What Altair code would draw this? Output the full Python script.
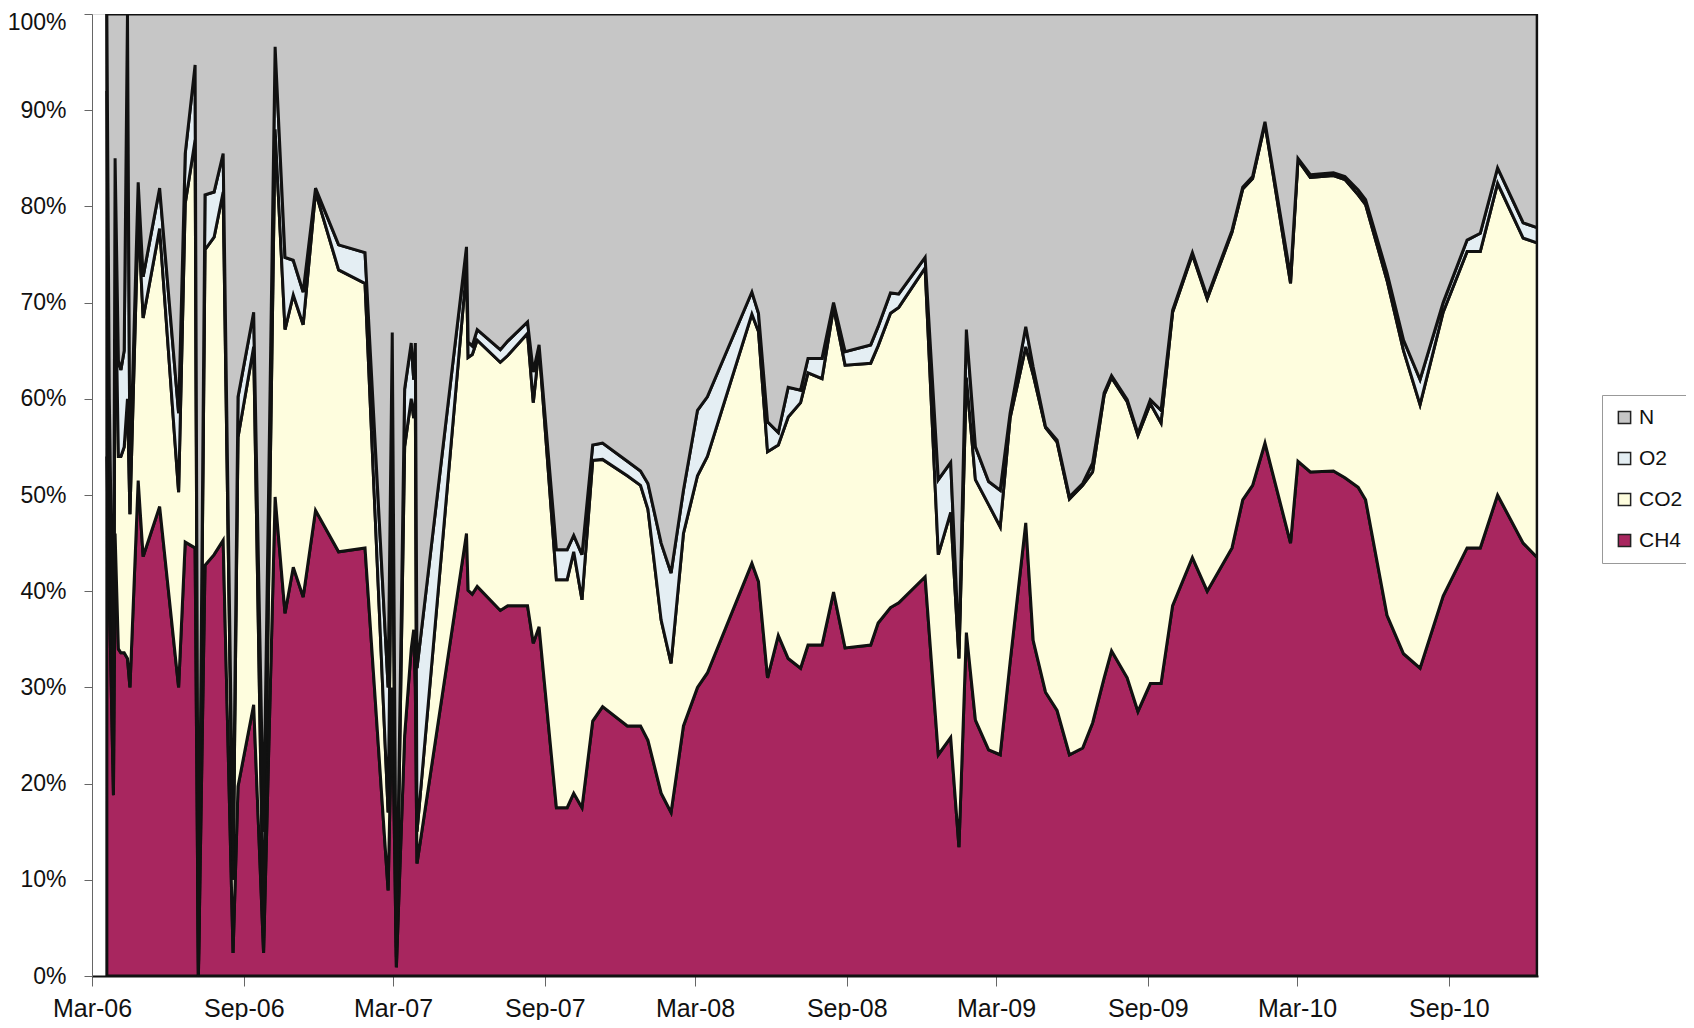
import altair as alt
import pandas as pd

# days after 2006-03-01 of each sample
day = [18, 21, 26, 28, 32, 35, 39, 43, 46, 56, 62, 82, 105, 113, 125, 129, 137, 148, 159, 171,
       177, 196, 208, 222, 234, 244, 256, 271, 299, 331, 359, 364, 369, 379, 387, 390, 392, 394, 454, 456,
       461, 467, 495, 504, 528, 535, 542, 563, 576, 584, 594, 607, 619, 649, 665, 674, 690, 702, 717, 734,
       746, 800, 808, 819, 832, 844, 859, 868, 885, 899, 913, 944, 953, 968, 978, 1010, 1026, 1041, 1051, 1060,
       1071, 1087, 1101, 1113, 1132, 1141, 1156, 1170, 1185, 1201, 1213, 1227, 1236, 1255, 1268, 1283, 1296, 1310, 1334, 1352,
       1382, 1395, 1407, 1422, 1453, 1462, 1477, 1505, 1519, 1535, 1544, 1570, 1590, 1610, 1638, 1667, 1683, 1704, 1735, 1752]

ch4 = [54, 40, 18.8, 46, 34, 33.6, 33.6, 33, 30, 51.5, 43.6, 48.8, 30, 45.1, 44.5, 0, 42.7, 43.8, 45.3, 2.4,
       19.7, 28.2, 2.4, 49.8, 37.7, 42.5, 39.4, 48.4, 44.1, 44.5, 8.9, 30, 0.9, 25, 34, 36, 30, 11.7, 46, 40.1,
       39.7, 40.5, 38, 38.5, 38.5, 34.6, 36.3, 17.5, 17.5, 19, 17.5, 26.5, 28, 26, 26, 24.5, 19, 17, 26, 30,
       31.5, 42.9, 41, 31, 35.4, 33, 32, 34.4, 34.4, 39.9, 34.1, 34.4, 36.7, 38.3, 38.8, 41.5, 23, 24.8, 13.4, 35.7,
       26.6, 23.5, 23, 32.6, 47.1, 34.9, 29.5, 27.6, 23, 23.7, 26.3, 31, 33.8, 31, 27.5, 30.4, 30.4, 38.5, 43.5, 40,
       44.5, 49.5, 51, 55.4, 45, 53.5, 52.4, 52.5, 51.8, 50.8, 49.5, 37.5, 33.5, 32, 39.5, 44.5, 44.5, 50, 45, 43.5]

co2 = [38, 15, 3.2, 29, 20, 20.4, 21.4, 27, 18, 27.5, 24.8, 28.9, 20.3, 35.2, 42.4, 0, 32.8, 33.0, 36.2, 7.6,
       36.3, 37.2, 1.6, 38.2, 29.5, 28.3, 28.3, 33.1, 29.3, 27.5, 8.1, 25, 1.1, 30, 26, 22, 30, 3.3, 27.5, 24.2,
       24.9, 25.6, 25.8, 26, 28.3, 25, 29.1, 23.7, 23.7, 25.1, 21.6, 27.1, 25.7, 26, 25, 24, 18, 15.5, 20, 22,
       22.5, 25.9, 26, 23.5, 19.8, 25.1, 27.6, 28.3, 27.7, 29.6, 29.4, 29.3, 28.8, 30.6, 30.7, 32.1, 20.8, 23.4, 19.6, 26.5,
       25, 25.5, 23.7, 25.4, 18.3, 27.6, 27.5, 27.9, 26.6, 27.3, 26.1, 29.4, 28.4, 28.7, 28.7, 29.1, 27.1, 30.5, 31.5, 30.4,
       32.8, 32.3, 31.9, 33.2, 27, 31.3, 30.6, 30.7, 31, 30.4, 30.7, 34.8, 31.5, 27.4, 29.5, 30.8, 30.8, 32.4, 31.7, 32.7]

o2 = [8, 5, 8, 10, 10, 9, 10, 40, 4, 3.5, 4.3, 4.2, 8.2, 5.2, 7.8, 0, 5.7, 4.7, 4.0, 2,
      4.2, 3.6, 11, 8.6, 7.5, 3.6, 3.4, 0.4, 2.6, 3.2, 13, 11.9, 1, 6, 5.8, 4, 5.8, 17, 2.3, 1.6,
      0.9, 1.1, 1.3, 1.5, 1.2, 3.2, 0.2, 3.1, 3.1, 1.7, 4.7, 1.6, 1.7, 1.5, 1.5, 2.7, 8, 9.4, 4.5, 6.8,
      6.2, 2.3, 1.9, 3.1, 1.3, 3.1, 1.3, 1.5, 2.1, 0.5, 1.4, 1.9, 2.0, 2.1, 1.4, 1.1, 7.8, 5.2, 1.0, 5.0,
      3.4, 2.4, 3.8, 0.5, 2.1, 0.8, 0.1, 0.2, 0.2, 0.2, 0.9, 0.2, 0.2, 0.2, 0.2, 0.4, 1.3, 0.2, 0.2, 0.2,
      0.2, 0.2, 0.2, 0.2, 0.7, 0.2, 0.3, 0.3, 0.3, 0.5, 0.5, 0.8, 1.1, 2.6, 1.0, 1.2, 1.9, 1.6, 1.6, 1.6]

n = [0, 40, 70, 15, 36, 37, 35, 0, 48, 17.5, 27.3, 18.1, 41.5, 14.5, 5.3, 100, 18.8, 18.5, 14.5, 88,
     39.8, 31, 85, 3.4, 25.3, 25.6, 28.9, 18.1, 24, 24.8, 70, 33.1, 97, 39, 34.2, 38, 34.2, 68, 24.2, 34.1,
     34.5, 32.8, 34.9, 34, 32, 37.2, 34.4, 55.7, 55.7, 54.2, 56.2, 44.8, 44.6, 46.5, 47.5, 48.8, 55, 58.1, 49.5, 41.2,
     39.8, 28.9, 31.1, 42.4, 43.5, 38.8, 39.1, 35.8, 35.8, 30, 35.1, 34.4, 32.5, 29, 29.1, 25.3, 48.4, 46.6, 66, 32.8,
     45, 48.6, 49.5, 41.5, 32.5, 36.7, 42.9, 44.3, 50.2, 48.8, 46.7, 39.4, 37.6, 40.1, 43.6, 40.1, 41.2, 30.8, 24.8, 29.4,
     22.5, 18, 16.9, 11.2, 27.3, 15, 16.7, 16.5, 16.9, 18.3, 19.3, 26.9, 33.9, 38, 30, 23.5, 22.8, 16, 21.7, 22.2]

series_names = ["N", "O2", "CO2", "CH4"]
series_colors = ["#C6C6C6", "#E4EEF3", "#FEFDDE", "#A8265F"]
tick_dates = ["2006-03-01", "2006-09-01", "2007-03-01", "2007-09-01", "2008-03-01",
              "2008-09-01", "2009-03-01", "2009-09-01", "2010-03-01", "2010-09-01"]
y_ticks = [0, 10, 20, 30, 40, 50, 60, 70, 80, 90, 100]

dates = (pd.Timestamp("2006-03-01") + pd.to_timedelta(day, unit="D")).strftime("%Y-%m-%d")
rows = []
for name, vals, o in [("CH4", ch4, 0), ("CO2", co2, 1), ("O2", o2, 2), ("N", n, 3)]:
    for d, v in zip(dates, vals):
        rows.append({"date": d, "gas": name, "pct": v, "ord": o})
df = pd.DataFrame(rows)


def ms(s):
    return int(pd.Timestamp(s).value // 10**6)


FONT = "Liberation Sans"

chart = alt.Chart(df).mark_area(
    stroke="#111111", strokeWidth=3, interpolate="linear", clip=True
).encode(
    x=alt.X("date:T", title=None,
            scale=alt.Scale(type="utc", domain=[ms("2006-03-01"), ms("2010-12-18")]),
            axis=alt.Axis(values=[ms(t) for t in tick_dates],
                          labelExpr="utcFormat(datum.value, '%b-%y')",
                          labelFlush=False, labelOverlap=False,
                          labelFontSize=25, tickSize=10, labelPadding=10, grid=False,
                          labelFont=FONT, labelColor="#111", tickColor="#666",
                          domainColor="#111", domainWidth=2)),
    y=alt.Y("pct:Q", stack="zero", title=None,
            scale=alt.Scale(domain=[0, 100], nice=False),
            axis=alt.Axis(values=y_ticks, labelExpr="datum.value + '%'",
                          labelFlush=False,
                          labelOffset={"condition": {"test": "datum.value == 100", "value": 8}, "value": 0},
                          labelFontSize=23, tickSize=8, labelPadding=18, grid=False,
                          labelFont=FONT, labelColor="#111", tickColor="#666",
                          domainColor="#666")),
    color=alt.Color("gas:N",
                    scale=alt.Scale(domain=series_names, range=series_colors),
                    legend=alt.Legend(title=None, orient="none", legendX=1510, legendY=381,
                                      symbolType="square", symbolSize=150,
                                      symbolStrokeColor="#222", symbolStrokeWidth=1.5,
                                      labelFontSize=21, labelFont=FONT, labelColor="#111",
                                      labelOffset=4,
                                      rowPadding=19, padding=12, strokeColor="#999",
                                      fillColor="white", symbolOpacity=1)),
    order=alt.Order("ord:Q", sort="ascending"),
).properties(
    width=1446, height=962,
    autosize=alt.AutoSizeParams(type="none"),
    padding={"left": 84, "top": 6, "right": 148, "bottom": 44},
).configure_view(
    fill="#C6C6C6", stroke="#333", strokeWidth=1.5
).configure(background="white")

chart.save("out.html", embed_options={"renderer": "svg", "actions": False})
